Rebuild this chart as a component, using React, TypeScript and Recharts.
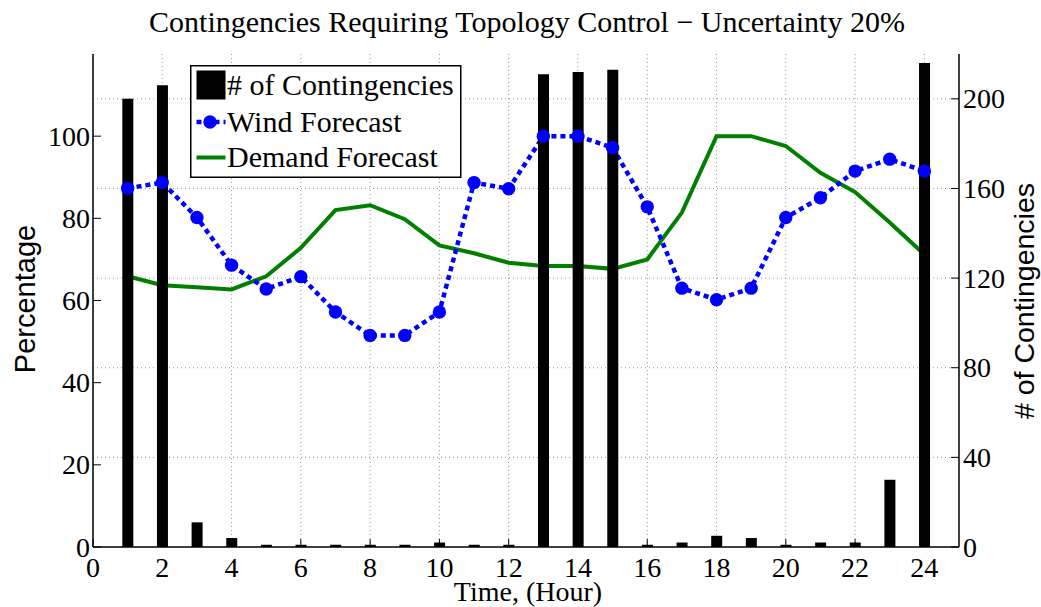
import React from 'react';
import { ComposedChart, Bar, Line, XAxis, YAxis, CartesianGrid, Legend } from 'recharts';

const hours = [1, 2, 3, 4, 5, 6, 7, 8, 9, 10, 11, 12, 13, 14, 15, 16, 17, 18, 19, 20, 21, 22, 23, 24];
const contingencies = [200, 206, 11, 4, 1, 1, 1, 1, 1, 2, 1, 1, 211, 212, 213, 1, 2, 5, 4, 1, 2, 2, 30, 216];
const windForecast = [87.3, 88.7, 80.2, 68.6, 62.8, 65.8, 57.2, 51.5, 51.5, 57.2, 88.7, 87.2, 100, 100, 97.2, 82.8, 63, 60.2, 63, 80.2, 85, 91.5, 94.4, 91.5];
const demandForecast = [65.9, 63.7, 63.2, 62.7, 65.9, 72.8, 82, 83.2, 79.8, 73.4, 71.5, 69.2, 68.4, 68.4, 67.7, 70, 81.4, 100, 100, 97.6, 91.1, 86.4, 79, 71.2];
const xTicks = [0, 2, 4, 6, 8, 10, 12, 14, 16, 18, 20, 22, 24];
const leftTicks = [0, 20, 40, 60, 80, 100];
const rightTicks = [0, 40, 80, 120, 160, 200];

const TITLE = 'Contingencies Requiring Topology Control \u2212 Uncertainty 20%';
const X_LABEL = 'Time, (Hour)';
const LEFT_LABEL = 'Percentage';
const RIGHT_LABEL = '# of Contingencies';
const SERIES_NAMES = ['# of Contingencies', 'Wind Forecast', 'Demand Forecast'];

const data = hours.map((h, i) => ({
  hour: h,
  count: contingencies[i],
  wind: windForecast[i],
  demand: demandForecast[i],
}));

const SERIF = '"Liberation Serif", "Times New Roman", serif';
const SANS = '"Liberation Sans", Arial, sans-serif';
const BLUE = '#0000ff';
const GREEN = '#007f00';

const LegendBox = () => (
  <svg width={272} height={114} style={{ display: 'block' }}>
    <rect x={0.75} y={0.75} width={270} height={111.5} fill="#fff" stroke="#000" strokeWidth={1.5} />
    <rect x={6.5} y={5.5} width={29} height={29} fill="#000" />
    <text x={37} y={30} fontFamily={SERIF} fontSize={30} fill="#000">{SERIES_NAMES[0]}</text>
    <line x1={6.5} x2={35.5} y1={57} y2={57} stroke={BLUE} strokeWidth={4.5} strokeDasharray="5 4" />
    <circle cx={20} cy={57} r={6.7} fill={BLUE} />
    <text x={37} y={67} fontFamily={SERIF} fontSize={30} fill="#000">{SERIES_NAMES[1]}</text>
    <line x1={6.5} x2={35.5} y1={92.5} y2={92.5} stroke={GREEN} strokeWidth={4} />
    <text x={37} y={102} fontFamily={SERIF} fontSize={30} fill="#000">{SERIES_NAMES[2]}</text>
  </svg>
);

const XTick = (props: any) => (
  <text x={props.x} y={props.y + 18.5} textAnchor="middle" fontFamily={SERIF} fontSize={28} fill="#000">
    {props.payload.value}
  </text>
);

const LeftTick = (props: any) => (
  <text x={props.x} y={props.y + 9.5} textAnchor="end" fontFamily={SERIF} fontSize={28} fill="#000">
    {props.payload.value}
  </text>
);

const RightTick = (props: any) => (
  <text x={props.x} y={props.y + 9.5} textAnchor="start" fontFamily={SERIF} fontSize={28} fill="#000">
    {props.payload.value}
  </text>
);

export default function App() {
  return (
    <div style={{ position: 'absolute', left: 0, top: 0, width: 1041, height: 607, background: '#fff' }}>
      <ComposedChart
        width={1041}
        height={607}
        data={data}
        margin={{ top: 54, right: 0, bottom: 0, left: 0 }}
      >
        <CartesianGrid
          xAxisId="bottom"
          yAxisId="right"
          stroke="#9a9a9a"
          strokeWidth={1}
          strokeDasharray="1 3"
          verticalValues={xTicks}
          horizontalValues={rightTicks.filter((t) => t > 0)}
        />
        <XAxis
          xAxisId="bottom"
          dataKey="hour"
          type="number"
          domain={[0, 25]}
          ticks={xTicks}
          height={60}
          interval={0}
          tickSize={-8}
          tickMargin={19}
          axisLine={{ stroke: '#000', strokeWidth: 1.5 }}
          tickLine={{ stroke: '#000' }}
          tick={<XTick />}
          label={{
            content: () => (
              <g>
                <text x={528} y={601} textAnchor="middle" fontFamily={SERIF} fontSize={28} fill="#000">
                  {X_LABEL}
                </text>
                <text x={527} y={32} textAnchor="middle" fontFamily={SERIF} fontSize={30} fill="#000">
                  {TITLE}
                </text>
              </g>
            ),
          }}
        />
        <XAxis
          xAxisId="top"
          orientation="top"
          dataKey="hour"
          type="number"
          domain={[0, 25]}
          ticks={xTicks}
          height={0}
          interval={0}
          tickSize={-8}
          tick={false}
          axisLine={{ stroke: '#000', strokeWidth: 1.5 }}
          tickLine={{ stroke: '#000' }}
        />
        <YAxis
          yAxisId="left"
          orientation="left"
          type="number"
          domain={[0, 120]}
          ticks={leftTicks}
          width={93}
          interval={0}
          tickSize={-8}
          tickMargin={11}
          axisLine={{ stroke: '#000', strokeWidth: 1.5 }}
          tickLine={{ stroke: '#000' }}
          tick={<LeftTick />}
          label={{
            content: () => (
              <text
                x={35}
                y={299}
                transform="rotate(-90 35 299)"
                textAnchor="middle"
                fontFamily={SANS}
                fontSize={29}
                fill="#000"
              >
                {LEFT_LABEL}
              </text>
            ),
          }}
        />
        <YAxis
          yAxisId="right"
          orientation="right"
          type="number"
          domain={[0, 220]}
          ticks={rightTicks}
          width={82}
          interval={0}
          tickSize={-8}
          tickMargin={12}
          axisLine={{ stroke: '#000', strokeWidth: 1.5 }}
          tickLine={{ stroke: '#000' }}
          tick={<RightTick />}
          label={{
            content: () => (
              <text
                x={1034}
                y={301}
                transform="rotate(-90 1034 301)"
                textAnchor="middle"
                fontFamily={SANS}
                fontSize={28.5}
                fill="#000"
              >
                {RIGHT_LABEL}
              </text>
            ),
          }}
        />
        <Line
          xAxisId="bottom"
          yAxisId="left"
          dataKey="demand"
          name={SERIES_NAMES[2]}
          stroke={GREEN}
          strokeWidth={4}
          dot={false}
          activeDot={false}
          isAnimationActive={false}
        />
        <Line
          xAxisId="bottom"
          yAxisId="left"
          dataKey="wind"
          name={SERIES_NAMES[1]}
          stroke={BLUE}
          strokeWidth={4.5}
          strokeDasharray="5 4"
          dot={{ r: 6.7, fill: BLUE, stroke: 'none', strokeDasharray: '' }}
          activeDot={false}
          isAnimationActive={false}
        />
        <Bar
          xAxisId="bottom"
          yAxisId="right"
          dataKey="count"
          name={SERIES_NAMES[0]}
          fill="#000"
          barSize={11}
          zIndex={500}
          isAnimationActive={false}
        />
        <Legend
          layout="vertical"
          align="center"
          verticalAlign="middle"
          content={() => <LegendBox />}
          wrapperStyle={{ left: 190, top: 65, width: 272, height: 114 }}
        />
      </ComposedChart>
    </div>
  );
}
